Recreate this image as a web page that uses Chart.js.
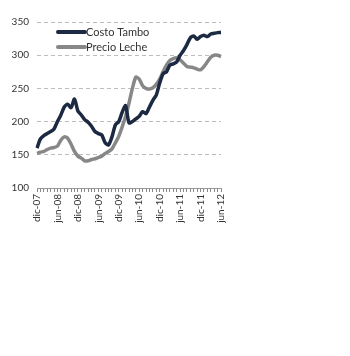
<!DOCTYPE html>
<html>
<head>
<meta charset="utf-8">
<script src="https://cdn.jsdelivr.net/npm/chart.js@4"></script>
<style>
    body { margin: 0; background: #fff; }
    #wrap { position: absolute; left: 0; top: 0; width: 235px; height: 230px; }
</style>
</head>
<body>
<div id="wrap"><canvas id="tamboChart"></canvas></div>
<script>
// meses dic-07 .. jun-12
const labels = [
    "dic-07", "ene-08", "feb-08", "mar-08", "abr-08", "may-08", "jun-08", "jul-08", "ago-08", "sep-08", "oct-08", "nov-08",
    "dic-08", "ene-09", "feb-09", "mar-09", "abr-09", "may-09", "jun-09", "jul-09", "ago-09", "sep-09", "oct-09", "nov-09",
    "dic-09", "ene-10", "feb-10", "mar-10", "abr-10", "may-10", "jun-10", "jul-10", "ago-10", "sep-10", "oct-10", "nov-10",
    "dic-10", "ene-11", "feb-11", "mar-11", "abr-11", "may-11", "jun-11", "jul-11", "ago-11", "sep-11", "oct-11", "nov-11",
    "dic-11", "ene-12", "feb-12", "mar-12", "abr-12", "may-12", "jun-12"
];

const costoTambo = [
    160, 174, 179, 182, 185, 189, 200, 210, 222, 226, 221, 234,
    216, 210, 203, 199, 193, 185, 182, 180, 168, 165, 177, 195,
    200, 214, 224, 198, 200, 204, 208, 215, 212, 222, 232, 240,
    258, 272, 275, 285, 287, 290, 300, 307, 316, 326, 329, 324,
    328, 330, 328, 332, 333, 334, 334
];

const precioLeche = [
    152, 154, 155, 158, 160, 161, 163, 172, 177, 175, 166, 155,
    148, 145, 141, 141, 143, 144, 146, 148, 152, 155, 159, 168,
    178, 192, 208, 228, 250, 267, 264, 254, 250, 249, 251, 256,
    264, 275, 285, 292, 295, 296, 293, 288, 283, 282, 281, 279,
    278, 283, 290, 297, 300, 300, 298
];

const yTicks = [100, 150, 200, 250, 300, 350];

// leyenda dibujada dentro del area del grafico
const insideLegend = {
    id: "insideLegend",
    afterDatasetsDraw(chart) {
        const ctx = chart.ctx;
        const area = chart.chartArea;
        ctx.save();
        chart.data.datasets.forEach((ds, i) => {
            const x = area.left + 21;
            const y = area.top + 10 + i * 15;
            ctx.strokeStyle = ds.borderColor;
            ctx.lineWidth = 4;
            ctx.lineCap = "round";
            ctx.beginPath();
            ctx.moveTo(x, y);
            ctx.lineTo(x + 27, y);
            ctx.stroke();
            ctx.fillStyle = "#333";
            ctx.font = "11px Lato";
            ctx.textBaseline = "middle";
            ctx.fillText(ds.label, x + 28, y);
        });
        ctx.restore();
    },
};

new Chart(document.getElementById("tamboChart"), {
    type: "line",
    data: {
        labels: labels,
        datasets: [
            {
                label: "Costo Tambo",
                data: costoTambo,
                borderColor: "#1b2942",
                borderWidth: 3.5,
                pointRadius: 0,
                tension: 0.25,
            },
            {
                label: "Precio Leche",
                data: precioLeche,
                borderColor: "#878787",
                borderWidth: 3.5,
                pointRadius: 0,
                tension: 0.25,
            },
        ],
    },
    options: {
        animation: false,
        responsive: true,
        maintainAspectRatio: false,
        layout: {
            padding: { top: 22, right: 6, left: 0, bottom: 0 },
        },
        plugins: {
            legend: { display: false },
            tooltip: { enabled: false },
        },
        scales: {
            x: {
                offset: false,
                afterFit: (scale) => { scale.height = 42; },
                grid: {
                    drawOnChartArea: false,
                    drawTicks: true,
                    tickLength: 4,
                    color: "#888",
                },
                border: { display: true, color: "#999", width: 1 },
                ticks: {
                    autoSkip: false,
                    maxRotation: 90,
                    minRotation: 90,
                    padding: 2,
                    color: "#333",
                    font: { family: "Lato", size: 10 },
                    callback: function (v, i) {
                        return i % 6 === 0 ? labels[i] : "";
                    },
                },
            },
            y: {
                min: 100,
                max: 350,
                afterFit: (scale) => { scale.width = 37; },
                afterBuildTicks: (scale) => {
                    scale.ticks = yTicks.map((v) => ({ value: v }));
                },
                grid: {
                    drawTicks: false,
                    color: "#bdbdbd",
                },
                border: { display: false, dash: [4, 3] },
                ticks: {
                    padding: 8,
                    color: "#333",
                    font: { family: "Lato", size: 10 },
                },
            },
        },
    },
    plugins: [insideLegend],
});
</script>
</body>
</html>
